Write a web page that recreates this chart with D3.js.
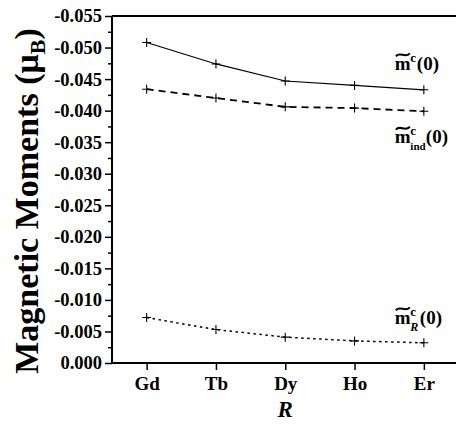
<!DOCTYPE html>
<html>
<head>
<meta charset="utf-8">
<script src="https://cdn.jsdelivr.net/npm/d3@7"></script>
<style>
  body { margin: 0; background: #fff; }
  svg { display: block; font-family: "Liberation Serif", "Times New Roman", serif; }
</style>
</head>
<body>
<script>
// data
const elements = ["Gd", "Tb", "Dy", "Ho", "Er"];
const mTotal = [-0.0508, -0.0474, -0.0447, -0.0440, -0.0433];
const mInd = [-0.0434, -0.0420, -0.0406, -0.0404, -0.0399];
const mR = [-0.0072, -0.0053, -0.0041, -0.0035, -0.0032];
const yTicks = [0, -0.005, -0.010, -0.015, -0.020, -0.025, -0.030, -0.035, -0.040, -0.045, -0.050, -0.055];

const W = 456, H = 424;
const plotLeft = 112, plotTop = 16, plotBottom = 363;

const svg = d3.select("body").append("svg")
    .attr("width", W)
    .attr("height", H);

const x = d3.scalePoint()
    .domain(elements)
    .range([plotLeft, 458.5])
    .padding(0.5);

const y = d3.scaleLinear()
    .domain([0, -0.055])
    .range([plotBottom, plotTop]);

const fmt = v => d3.format(".3f")(v).replace("\u2212", "-");

// top frame line
svg.append("line")
    .attr("x1", plotLeft).attr("x2", W)
    .attr("y1", plotTop).attr("y2", plotTop)
    .attr("stroke", "#000").attr("stroke-width", 2);

// y axis
const yAxis = svg.append("g")
    .attr("transform", `translate(${plotLeft},0)`)
    .call(d3.axisLeft(y).tickValues(yTicks).tickFormat(fmt).tickSize(7).tickPadding(3));

// minor ticks
svg.append("g")
    .attr("transform", `translate(${plotLeft},0)`)
    .call(d3.axisLeft(y).tickValues(yTicks.slice(1).map(v => v + 0.0025)).tickSize(4).tickFormat(""))
    .call(g => g.select(".domain").remove());

// x axis
const xAxis = svg.append("g")
    .attr("transform", `translate(0,${plotBottom})`)
    .call(d3.axisBottom(x).tickSize(7).tickPadding(7).tickSizeOuter(0));

svg.selectAll(".domain").attr("stroke-width", 2);
svg.selectAll(".tick line").attr("stroke-width", 1.5);
yAxis.select(".domain").attr("d", `M0,${plotBottom}V${plotTop}`);
xAxis.select(".domain").attr("d", `M${plotLeft},0H${W}`);

yAxis.selectAll("text")
    .attr("font-size", 18.5).attr("font-weight", "bold")
    .attr("font-family", "Liberation Serif").attr("fill", "#000");
xAxis.selectAll("text")
    .attr("font-size", 19).attr("font-weight", "bold")
    .attr("font-family", "Liberation Serif").attr("fill", "#000");

// axis titles
const yt = svg.append("text")
    .attr("transform", "translate(38,201) rotate(-90)")
    .attr("text-anchor", "middle")
    .attr("font-size", 34).attr("font-weight", "bold");
yt.append("tspan").text("Magnetic Moments (\u03bc");
yt.append("tspan").attr("font-size", 22).attr("dy", 7).text("B");
yt.append("tspan").attr("dy", -7).text(")");

svg.append("text")
    .attr("x", x("Dy")).attr("y", 417)
    .attr("text-anchor", "middle")
    .attr("font-size", 23).attr("font-weight", "bold").attr("font-style", "italic")
    .text("R");

// series
const series = [
    { vals: mTotal, width: 1.2, dash: null },
    { vals: mInd, width: 1.8, dash: "7,5" },
    { vals: mR, width: 1.5, dash: "2.5,3.5" }
];

const line = d3.line()
    .x((d, i) => x(elements[i]))
    .y(d => y(d));

series.forEach(s => {
    svg.append("path")
        .datum(s.vals)
        .attr("d", line)
        .attr("fill", "none")
        .attr("stroke", "#000")
        .attr("stroke-width", s.width)
        .attr("stroke-dasharray", s.dash);

    svg.append("g").selectAll("path")
        .data(s.vals)
        .join("path")
        .attr("d", (d, i) => {
            const cx = x(elements[i]), cy = y(d);
            return `M${cx - 4.5},${cy}H${cx + 4.5}M${cx},${cy - 4.5}V${cy + 4.5}`;
        })
        .attr("stroke", "#000")
        .attr("stroke-width", 1.1);
});

// series labels  m~^c(0)
function mLabel(lx, ly, sub, subItalic) {
    const g = svg.append("g").attr("font-weight", "bold");
    g.append("text").attr("x", lx).attr("y", ly).attr("font-size", 19).text("m");
    // tilde over the m
    const t0 = lx + 1, ty = ly - 15;
    g.append("path")
        .attr("d", `M${t0},${ty + 1.5}C${t0 + 4},${ty - 4} ${t0 + 9},${ty + 4} ${t0 + 14},${ty - 1.5}`)
        .attr("fill", "none").attr("stroke", "#000").attr("stroke-width", 2);
    g.append("text").attr("x", lx + 15.5).attr("y", ly - 8).attr("font-size", 13).text("c");
    let endX = lx + 22;
    if (sub) {
        g.append("text").attr("x", lx + 15.5).attr("y", ly + 7)
            .attr("font-size", sub === "R" ? 12 : 11)
            .attr("font-style", subItalic ? "italic" : null)
            .text(sub);
        endX = sub === "R" ? lx + 25 : lx + 31;
    }
    g.append("text").attr("x", endX).attr("y", ly).attr("font-size", 19).text("(0)");
}

const lx = x("Er") - 29;
mLabel(lx, y(mTotal[4]) - 20, null, false);
mLabel(lx, y(mInd[4]) + 32, "ind", false);
mLabel(lx, y(mR[4]) - 19, "R", true);
</script>
</body>
</html>
